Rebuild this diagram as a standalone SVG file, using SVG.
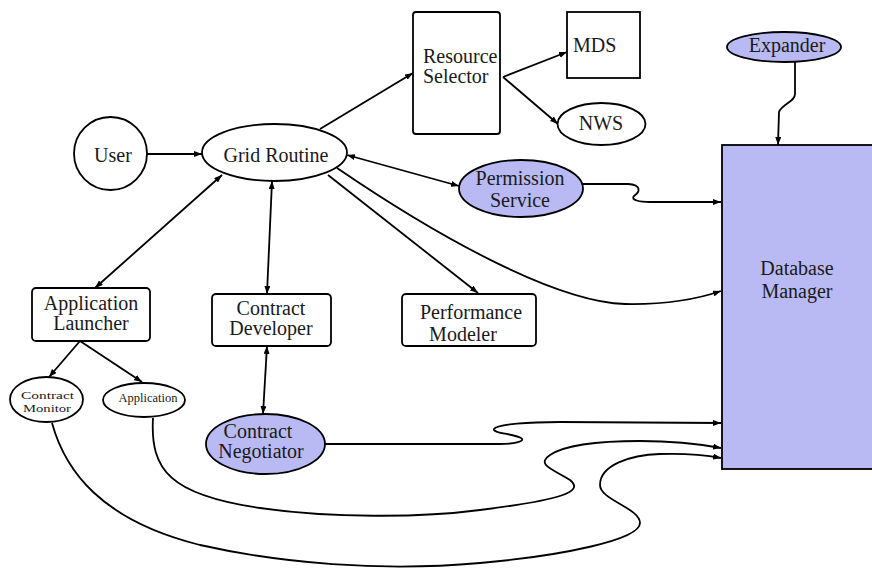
<svg xmlns="http://www.w3.org/2000/svg" width="872" height="571" viewBox="0 0 872 571">
  <style>
    .shape { fill: #ffffff; stroke: #000000; stroke-width: 1.8; }
    .svc { fill: #b9b9f4; stroke: #000000; stroke-width: 1.8; }
    .lbl { font-family: 'Liberation Serif', 'DejaVu Serif', 'Times New Roman', serif; font-size: 20px; fill: #1a1a1a; text-anchor: middle; }
    .edge { fill: none; stroke: #000000; stroke-width: 1.8; }
    .one { marker-end: url(#arr); }
    .two { marker-start: url(#arr); marker-end: url(#arr); }
  </style>
  <defs>
    <marker id="arr" viewBox="0 0 8 6" refX="8" refY="3" markerUnits="userSpaceOnUse" markerWidth="8" markerHeight="6" orient="auto-start-reverse">
      <path d="M0,0 L8,3 L0,6 z" fill="#000000"/>
    </marker>
  </defs>
  <rect width="872" height="571" fill="#ffffff"/>

  <g id="connectors">
    <path class="edge one" d="M147,154 L202,154"/>
    <path class="edge one" d="M320,129 L413,73"/>
    <path class="edge one" d="M503,77 L567,52"/>
    <path class="edge one" d="M503,77 L558,124"/>
    <path class="edge two" d="M347,155 L459,186"/>
    <path class="edge one" d="M328,175 L478,293"/>
    <path class="edge one" d="M337,168 C 450,245 560,302 625,304 Q 680,305 721,291"/>
    <path class="edge two" d="M222,175 L95,288"/>
    <path class="edge two" d="M272,181 L267,294"/>
    <path class="edge two" d="M267,346 L263,414"/>
    <path class="edge one" d="M80,341 L49,377"/>
    <path class="edge one" d="M80,341 L142,382"/>
    <path class="edge one" d="M583,184 L628,184 C 642,185 640,192 634,196 C 630,200 640,202 650,202 L721,202"/>
    <path class="edge one" d="M795,62 L795,94 C 795,102 782,104 779,112 L778,145"/>
    <path class="edge one" d="M325,444 L500,444 C 515,444 526,441 521,438 C 514,434 492,433 494,429 C 497,424 530,422 560,422 L721,423"/>
    <path class="edge one" d="M153,418 C 150,470 170,495 260,508 C 330,518 420,518 480,510 C 560,500 585,492 570,480 C 555,470 535,465 550,455 C 565,445 600,441 640,441 C 680,441 705,445 721,448"/>
    <path class="edge one" d="M52,423 C 65,470 100,520 200,545 C 280,563 380,572 480,563 C 560,556 640,540 640,523 C 640,508 600,500 600,485 C 600,465 630,455 660,454 C 690,453 705,455 721,458"/>
  </g>

  <g id="user">
    <circle class="shape" cx="110.5" cy="153.5" r="36.5"/>
    <text class="lbl" x="113" y="162">User</text>
  </g>

  <g id="grid-routine">
    <ellipse class="shape" cx="274.5" cy="152.5" rx="72.5" ry="28.5"/>
    <text class="lbl" x="276" y="162">Grid Routine</text>
  </g>

  <g id="resource-selector">
    <rect class="shape" x="413" y="12" width="87" height="122" rx="3"/>
    <text class="lbl" x="423" y="63" style="text-anchor:start">Resource</text>
    <text class="lbl" x="423" y="83" style="text-anchor:start">Selector</text>
  </g>

  <g id="mds">
    <rect class="shape" x="567" y="12" width="73" height="66"/>
    <text class="lbl" x="573" y="52" style="text-anchor:start">MDS</text>
  </g>

  <g id="nws">
    <ellipse class="shape" cx="601.5" cy="124" rx="44" ry="21"/>
    <text class="lbl" x="601" y="130">NWS</text>
  </g>

  <g id="expander">
    <ellipse class="svc" cx="784" cy="47" rx="57" ry="15"/>
    <text class="lbl" x="787" y="52">Expander</text>
  </g>

  <g id="database-manager">
    <rect class="svc" x="722" y="145" width="160" height="324"/>
    <text class="lbl" x="797" y="275">Database</text>
    <text class="lbl" x="797" y="298">Manager</text>
  </g>

  <g id="permission-service">
    <ellipse class="svc" cx="521" cy="188.5" rx="62" ry="28.5"/>
    <text class="lbl" x="520" y="185">Permission</text>
    <text class="lbl" x="520" y="207">Service</text>
  </g>

  <g id="application-launcher">
    <rect class="shape" x="32" y="288" width="118" height="53" rx="4"/>
    <text class="lbl" x="91" y="310">Application</text>
    <text class="lbl" x="91" y="330">Launcher</text>
  </g>

  <g id="contract-developer">
    <rect class="shape" x="212" y="294" width="119" height="52" rx="4"/>
    <text class="lbl" x="271" y="315">Contract</text>
    <text class="lbl" x="271" y="335">Developer</text>
  </g>

  <g id="performance-modeler">
    <rect class="shape" x="402" y="294" width="134" height="52" rx="4"/>
    <text class="lbl" x="471" y="319">Performance</text>
    <text class="lbl" x="463" y="341">Modeler</text>
  </g>

  <g id="contract-monitor">
    <ellipse class="shape" cx="46.5" cy="399.5" rx="36.5" ry="22.5"/>
    <text class="lbl" x="47.5" y="399" style="font-size:11px" textLength="53" lengthAdjust="spacingAndGlyphs">Contract</text>
    <text class="lbl" x="47" y="412" style="font-size:11px" textLength="48" lengthAdjust="spacingAndGlyphs">Monitor</text>
  </g>

  <g id="application">
    <ellipse class="shape" cx="144" cy="400" rx="41" ry="17"/>
    <text class="lbl" x="148" y="402" style="font-size:12.5px">Application</text>
  </g>

  <g id="contract-negotiator">
    <ellipse class="svc" cx="265.5" cy="444" rx="59.5" ry="30"/>
    <text class="lbl" x="258" y="438">Contract</text>
    <text class="lbl" x="261" y="458">Negotiator</text>
  </g>
</svg>
